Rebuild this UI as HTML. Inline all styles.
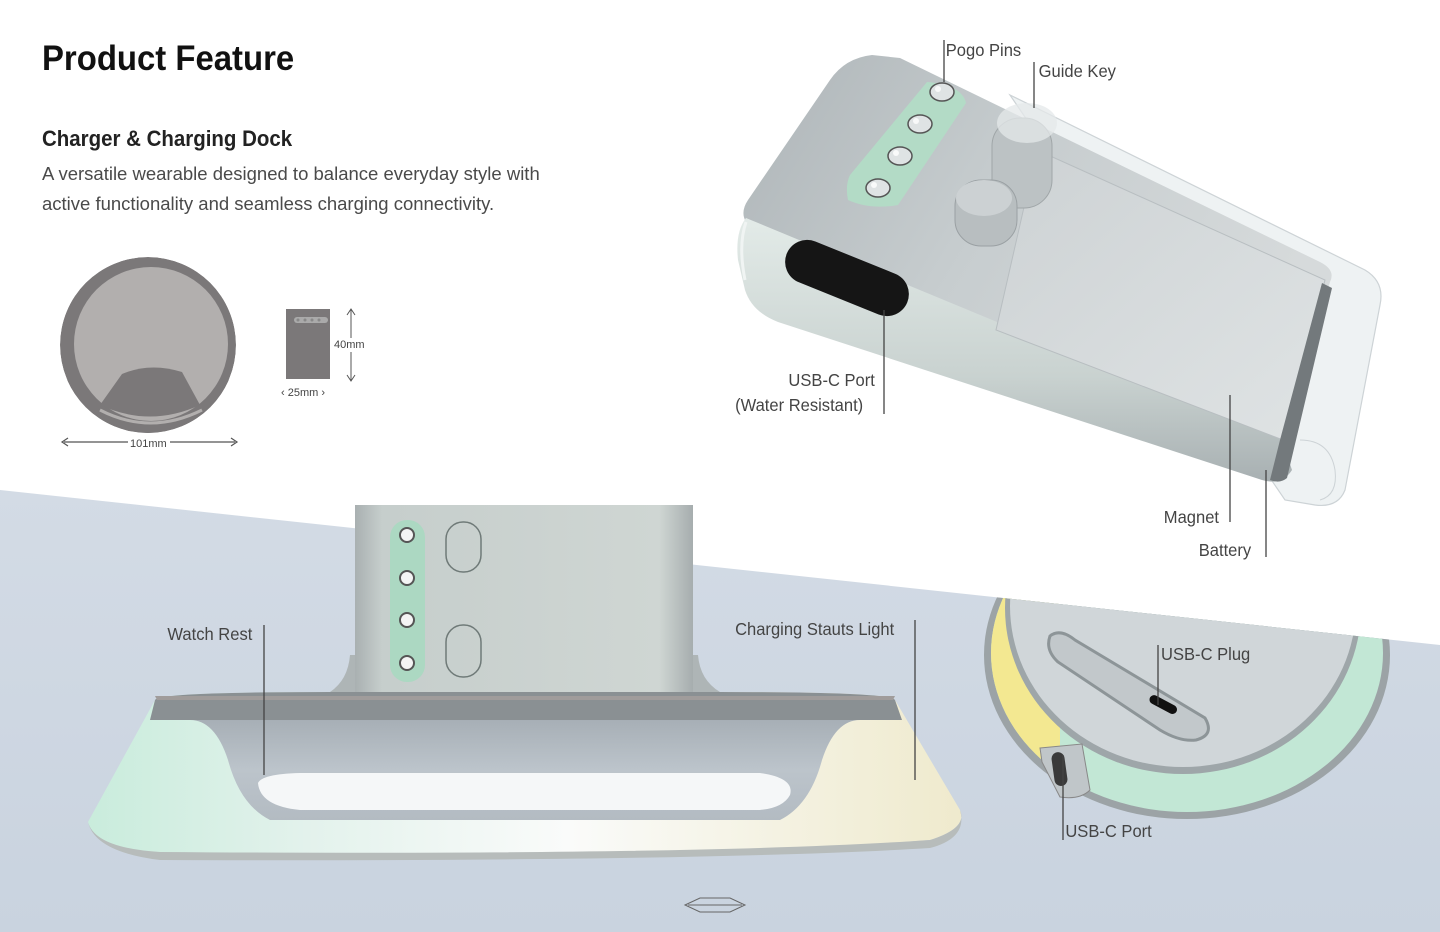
<!DOCTYPE html>
<html><head><meta charset="utf-8"><style>
html,body{margin:0;padding:0;width:1440px;height:932px;overflow:hidden;background:#fff;font-family:"Liberation Sans",sans-serif;}
svg{display:block}
</style></head><body>
<svg width="1440" height="932" viewBox="0 0 1440 932" xmlns="http://www.w3.org/2000/svg" font-family="Liberation Sans, sans-serif">
<defs>
<linearGradient id="bg" x1="0" y1="0" x2="0" y2="1"><stop offset="0" stop-color="#d3dbe5"/><stop offset="1" stop-color="#c9d3df"/></linearGradient>
<linearGradient id="topf" x1="0" y1="0" x2="1" y2="0.4"><stop offset="0" stop-color="#aeb5b8"/><stop offset="0.5" stop-color="#c7cdcf"/><stop offset="1" stop-color="#d6dadb"/></linearGradient>
<linearGradient id="front" x1="0" y1="0" x2="0" y2="1"><stop offset="0" stop-color="#e3ebe8"/><stop offset="0.6" stop-color="#c9d2d0"/><stop offset="1" stop-color="#a8b0b2"/></linearGradient>
<linearGradient id="plate2" x1="0" y1="0" x2="1" y2="1"><stop offset="0" stop-color="#cdd2d4"/><stop offset="1" stop-color="#dfe3e4"/></linearGradient>
<linearGradient id="dockring" x1="0" y1="0" x2="1" y2="0"><stop offset="0" stop-color="#c9ecdc"/><stop offset="0.25" stop-color="#e3f2ec"/><stop offset="0.55" stop-color="#fafbfa"/><stop offset="1" stop-color="#efeacd"/></linearGradient>
<linearGradient id="dockin" x1="0" y1="0" x2="0" y2="1"><stop offset="0" stop-color="#a7afb6"/><stop offset="0.5" stop-color="#bcc4cb"/><stop offset="1" stop-color="#b3bbc2"/></linearGradient>
<linearGradient id="plate" x1="0" y1="0" x2="1" y2="0"><stop offset="0" stop-color="#a9b0b1"/><stop offset="0.08" stop-color="#c6cecc"/><stop offset="0.9" stop-color="#cfd6d3"/><stop offset="1" stop-color="#a6adae"/></linearGradient>
<clipPath id="diag"><polygon points="0,490 1440,645 1440,932 0,932"/></clipPath>
<clipPath id="circ"><circle cx="148" cy="345" r="88"/></clipPath>
<clipPath id="ring"><ellipse cx="1187" cy="653" rx="196" ry="159"/></clipPath>
</defs>
<polygon points="0,490 1440,645 1440,932 0,932" fill="url(#bg)"/>

<text transform="translate(42,70) scale(0.94,1)" font-size="35" font-weight="bold" fill="#111">Product Feature</text>
<text transform="translate(42,146) scale(0.91,1)" font-size="22.5" font-weight="bold" fill="#222">Charger &amp; Charging Dock</text>
<text x="42" y="180" font-size="18.5" fill="#4a4a4a">A versatile wearable designed to balance everyday style with</text>
<text x="42" y="210" font-size="18.5" fill="#4a4a4a">active functionality and seamless charging connectivity.</text>

<!-- circle icon -->
<g clip-path="url(#circ)">
<circle cx="148" cy="345" r="88" fill="#7b7879"/>
<circle cx="151" cy="344" r="77" fill="#b2afae"/>
<path d="M82,380 Q90,405 100,415 Q150,438 205,412 Q216,395 222,380 L240,380 L240,440 L60,440 L60,380Z" fill="#7b7879"/>
<path d="M100,410 Q150,436 202,410" fill="none" stroke="#b2afae" stroke-width="3"/>
<path d="M100,405 L122,374 Q150,362 182,372 L200,405 Q150,428 100,405Z" fill="#7b7879"/>
</g>
<line x1="64" y1="442" x2="128" y2="442" stroke="#555" stroke-width="1.2"/>
<line x1="170" y1="442" x2="235" y2="442" stroke="#555" stroke-width="1.2"/>
<path d="M68,438 L62,442 L68,446 M231,438 L237,442 L231,446" stroke="#555" fill="none" stroke-width="1.2"/>
<text x="130" y="447" font-size="11" fill="#444">101mm</text>
<rect x="286" y="309" width="44" height="70" fill="#7b7879"/>
<rect x="294" y="317" width="34" height="6" rx="3" fill="#aaa"/>
<g fill="#888"><circle cx="298" cy="320" r="1.5"/><circle cx="305" cy="320" r="1.5"/><circle cx="312" cy="320" r="1.5"/><circle cx="319" cy="320" r="1.5"/></g>
<line x1="351" y1="310" x2="351" y2="338" stroke="#555"/><line x1="351" y1="352" x2="351" y2="380" stroke="#555"/>
<path d="M347,315 L351,309 L355,315 M347,375 L351,381 L355,375" stroke="#555" fill="none"/>
<text x="334" y="348" font-size="11" fill="#444">40mm</text>
<text x="281" y="396" font-size="11" fill="#444">‹ 25mm ›</text>

<!-- charger -->
<path d="M1010,95 L1365,270 Q1385,282 1380,305 L1345,490 Q1338,508 1315,505 L1285,500 Z" fill="#eef2f3" stroke="#cdd3d6" stroke-width="1.2"/>
<path d="M1300,440 Q1330,440 1335,470 Q1338,495 1320,500" fill="none" stroke="#cdd3d6"/>
<path d="M872,55 Q845,58 830,80 L748,200 Q740,212 746,222 L1280,445 L1330,282 Q1336,270 1320,262 L900,58Z" fill="url(#topf)"/>
<path d="M746,218 Q735,232 738,260 L745,290 Q752,312 778,322 L1262,480 Q1282,486 1292,470 L1282,440Z" fill="url(#front)"/>
<path d="M746,222 Q738,245 745,280" fill="none" stroke="#f0f4f3" stroke-width="3"/>
<path d="M1037,150 L1325,280 L1283,440 L996,330Z" fill="url(#plate2)" stroke="#b8bec1" stroke-width="1"/>
<path d="M1322,283 L1332,288 L1287,478 Q1280,484 1270,480 L1280,440Z" fill="#73797c"/>
<rect x="782" y="256" width="130" height="44" rx="22" fill="#151515" transform="rotate(22 847 278)"/>
<path d="M927,82 Q962,85 966,103 L898,205 Q870,210 848,200 Q845,185 850,175Z" fill="#b3dbc6"/>
<g fill="#dfe3e4" stroke="#555" stroke-width="1.5"><ellipse cx="942" cy="92" rx="12" ry="9"/><ellipse cx="920" cy="124" rx="12" ry="9"/><ellipse cx="900" cy="156" rx="12" ry="9"/><ellipse cx="878" cy="188" rx="12" ry="9"/></g>
<g fill="#fff" opacity="0.8"><circle cx="938" cy="89" r="3"/><circle cx="916" cy="121" r="3"/><circle cx="896" cy="153" r="3"/><circle cx="874" cy="185" r="3"/></g>
<rect x="992" y="118" width="60" height="90" rx="28" fill="#bcc2c4" stroke="#a0a6a8"/>
<ellipse cx="1027" cy="123" rx="30" ry="20" fill="#e4e8e9" opacity="0.75"/>
<rect x="955" y="180" width="62" height="66" rx="26" fill="#b8bec0" stroke="#9aa0a3"/>
<ellipse cx="984" cy="198" rx="28" ry="18" fill="#ccd1d3"/>

<!-- dock -->
<path d="M330,692 Q348,680 350,655 L368,655 L368,698Z M680,655 L698,655 Q700,680 720,692 L680,698Z" fill="#aeb5b6"/>
<rect x="355" y="505" width="338" height="190" fill="url(#plate)"/>
<rect x="390" y="520" width="35" height="162" rx="17" fill="#acd8c2"/>
<g fill="#f4f4f4" stroke="#555" stroke-width="2"><circle cx="407" cy="535" r="7"/><circle cx="407" cy="578" r="7"/><circle cx="407" cy="620" r="7"/><circle cx="407" cy="663" r="7"/></g>
<rect x="446" y="522" width="35" height="50" rx="17" fill="none" stroke="#6f7a78" stroke-width="1.5"/>
<rect x="446" y="625" width="35" height="52" rx="17" fill="none" stroke="#6f7a78" stroke-width="1.5"/>
<path d="M155,700 Q158,692 330,692 L720,692 Q892,692 895,700 L960,810 Q968,828 930,840 Q700,858 160,855 Q95,850 88,822 Z" fill="url(#dockring)"/>
<path d="M88,822 Q95,852 160,860 Q700,862 930,848 Q968,838 960,810 Q968,828 930,840 Q700,856 160,852 Q95,848 88,822Z" fill="#b7bcbb"/>
<path d="M150,720 L155,700 Q158,692 330,692 L720,692 Q892,692 895,700 L902,720Z" fill="#8a9093"/>
<path d="M155,696 L895,696 L893,700 L157,700Z" fill="#a09c9b"/>
<path d="M190,720 Q215,720 228,760 Q240,805 270,820 L780,820 Q810,805 822,760 Q835,720 860,720Z" fill="url(#dockin)"/>
<path d="M258,783 Q262,774 300,773 L760,773 Q795,778 790,795 Q783,808 760,810 L300,810 Q260,806 258,783Z" fill="#f5f7f8"/>
<path d="M685,905 L700,898 L730,898 L745,905 L730,912 L700,912Z" fill="none" stroke="#666"/>
<line x1="688" y1="905" x2="742" y2="905" stroke="#666"/>

<!-- bottom right base -->
<g clip-path="url(#diag)">
<ellipse cx="1187" cy="655" rx="203" ry="164" fill="#9ca3a6"/>
<ellipse cx="1187" cy="653" rx="196" ry="159" fill="#c2e7d5"/>
<path d="M980,560 L1060,560 L1060,760 L980,760Z" fill="#f3e891" clip-path="url(#ring)"/>
<ellipse cx="1183" cy="608" rx="178" ry="166" fill="#9ea6a9"/>
<ellipse cx="1183" cy="606" rx="173" ry="161" fill="#d0d6d9"/>
</g>
<path d="M1050,636 Q1060,628 1075,640 L1205,718 Q1215,735 1196,740 Q1180,742 1160,730 L1058,662 Q1045,650 1050,636Z" fill="#c2c8cb" stroke="#8d9598" stroke-width="3"/>
<rect x="1148" y="700" width="30" height="9" rx="4.5" fill="#111" transform="rotate(28 1163 705)"/>
<path d="M1040,748 L1082,744 L1090,790 Q1080,800 1060,797 L1042,762Z" fill="#c0c6c9" stroke="#888"/>
<rect x="1053" y="752" width="13" height="34" rx="6.5" fill="#3a3a3a" transform="rotate(-8 1060 769)"/>

<g stroke="#444" stroke-width="1.3" fill="none">
<line x1="944" y1="40" x2="944" y2="82"/><line x1="1034" y1="62" x2="1034" y2="108"/>
<line x1="884" y1="310" x2="884" y2="414"/><line x1="1230" y1="395" x2="1230" y2="522"/><line x1="1266" y1="470" x2="1266" y2="557"/>
<line x1="264" y1="625" x2="264" y2="775"/><line x1="915" y1="620" x2="915" y2="780"/>
<line x1="1158" y1="645" x2="1158" y2="705"/><line x1="1063" y1="755" x2="1063" y2="840"/>
</g>
<g font-size="18" fill="#444" transform="scale(0.92,1)">
<text x="1028" y="56">Pogo Pins</text>
<text x="1129" y="77">Guide Key</text>
<text x="857" y="386">USB-C Port</text>
<text x="799" y="411">(Water Resistant)</text>
<text x="1265" y="523">Magnet</text>
<text x="1303" y="556">Battery</text>
<text x="182" y="640">Watch Rest</text>
<text x="799" y="635">Charging Stauts Light</text>
<text x="1262" y="660">USB-C Plug</text>
<text x="1158" y="837">USB-C Port</text>
</g>
</svg>
</body></html>
